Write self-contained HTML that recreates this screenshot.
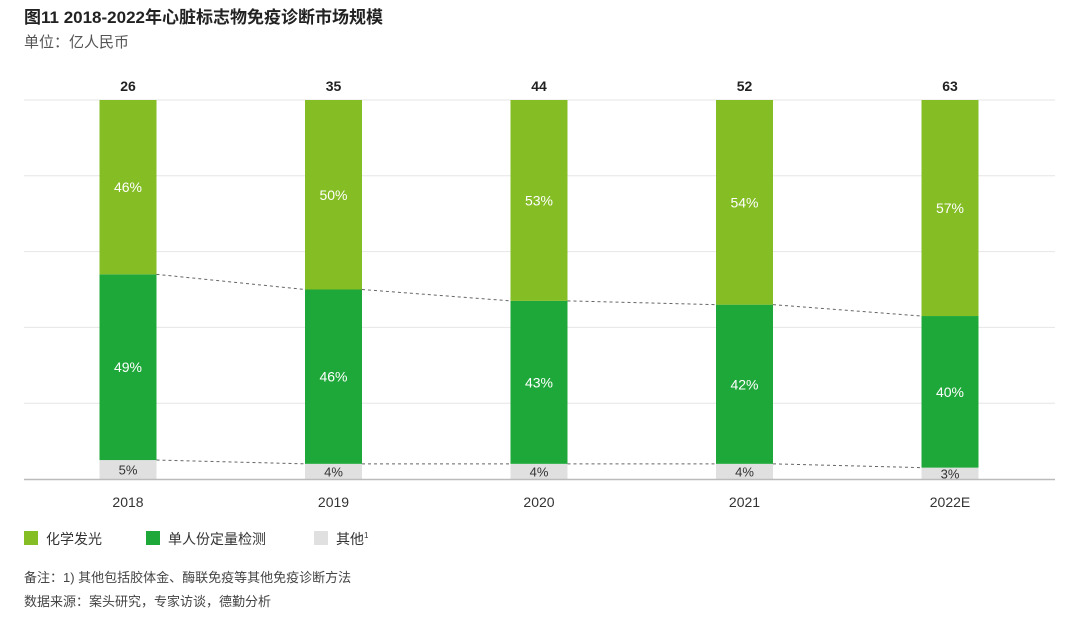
<!DOCTYPE html>
<html><head><meta charset="utf-8"><style>
body{margin:0;background:#fff;font-family:"Liberation Sans","Noto Sans CJK SC",sans-serif;}
svg text{font-family:"Liberation Sans","Noto Sans CJK SC",sans-serif;}
</style></head><body>
<svg id="chart" width="1080" height="618" xmlns="http://www.w3.org/2000/svg">
<text x="24" y="23" font-size="17" font-weight="bold" fill="#222">图11 2018-2022年心脏标志物免疫诊断市场规模</text>
<text x="24" y="47" font-size="15" fill="#555">单位：亿人民币</text>
<g id="grid"></g><g id="dash"></g><g id="bars"></g>
<line x1="24" x2="1055" y1="479.5" y2="479.5" stroke="#bbb" stroke-width="1.5"/>
<g>
<rect x="24" y="531" width="14" height="14" fill="#84bd24"/>
<text x="46" y="544" font-size="14" fill="#333">化学发光</text>
<rect x="146" y="531" width="14" height="14" fill="#1fa83a"/>
<text x="168" y="544" font-size="14" fill="#333">单人份定量检测</text>
<rect x="314" y="531" width="14" height="14" fill="#e0e0e0"/>
<text x="336" y="544" font-size="14" fill="#333">其他<tspan font-size="8" dy="-6">1</tspan></text>
</g>
<text x="24" y="582" font-size="13" fill="#444">备注：1) 其他包括胶体金、酶联免疫等其他免疫诊断方法</text>
<text x="24" y="606" font-size="13" fill="#444">数据来源：案头研究，专家访谈，德勤分析</text>
</svg>
<script>
const categories=["2018","2019","2020","2021","2022E"];
const totals=[26,35,44,52,63];
const chemi=[46,50,53,54,57];
const single=[49,46,43,42,40];
const other=[5,4,4,4,3];
const NS="http://www.w3.org/2000/svg";
const top0=100,bot=479,x0=128,step=205.5,bw=57;
const y=p=>bot-(p/100)*(bot-top0);
const xc=i=>x0+i*step;
function mk(t,a,parent){const e=document.createElementNS(NS,t);for(const k in a)e.setAttribute(k,a[k]);parent.appendChild(e);return e;}
const grid=document.getElementById('grid'),dash=document.getElementById('dash'),bars=document.getElementById('bars');
for(let g=0;g<5;g++){const l=mk('line',{x1:24,x2:1055,y1:top0+g*(bot-top0)/5,y2:top0+g*(bot-top0)/5,stroke:'#e6e6e6'},grid);

}
categories.forEach((c,i)=>{
 const segs=[[other[i],0,'#e0e0e0','#333','other'],[single[i],other[i],'#1fa83a','#fff','single'],[chemi[i],other[i]+single[i],'#84bd24','#fff','chemi']];
 segs.forEach(([v,b,col,tc,nm])=>{
  const yt=y(b+v),yb=y(b);
  const r=mk('rect',{x:xc(i)-bw/2,y:yt,width:bw,height:yb-yt,fill:col},bars);
  
  
  const t=mk('text',{x:xc(i),y:(yt+yb)/2+5,'text-anchor':'middle','font-size':nm=='other'?13:14,fill:tc},bars);
  t.textContent=v+'%';
  
  
 });
 const tt=mk('text',{x:xc(i),y:91,'text-anchor':'middle','font-size':14,'font-weight':'bold',fill:'#222'},bars);
 tt.textContent=totals[i];
 
 
 const xl=mk('text',{x:xc(i),y:507,'text-anchor':'middle','font-size':14,fill:'#333'},bars);
 xl.textContent=c;
 
 
 if(i<categories.length-1){
  [[other[i],other[i+1]],[other[i]+single[i],other[i+1]+single[i+1]]].forEach(([a,b])=>{
   const d=mk('line',{x1:xc(i)+bw/2,x2:xc(i+1)-bw/2,y1:y(a),y2:y(b),stroke:'#666','stroke-dasharray':'3,3','stroke-width':1},dash);
   
   
  });
 }
});
</script>
</body></html>
